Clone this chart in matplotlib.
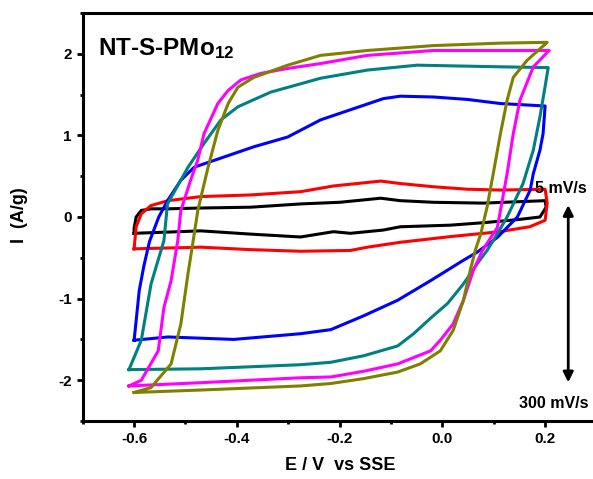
import matplotlib
matplotlib.use("Agg")
import matplotlib.pyplot as plt
from matplotlib.ticker import MultipleLocator

plt.rcParams['font.family'] = ['Liberation Sans', 'DejaVu Sans']
plt.rcParams['font.weight'] = 'bold'
plt.rcParams['mathtext.fontset'] = 'custom'
plt.rcParams['mathtext.rm'] = 'Liberation Sans:bold'
plt.rcParams['mathtext.default'] = 'rm'

# CV loops: forward (anodic) sweep then reverse sweep, E in V vs SSE, I in A/g
black_E = [-0.6, -0.6, -0.596, -0.586, -0.567, -0.534, -0.47, -0.373, -0.276, -0.2, -0.12, -0.082, -0.017, 0.08, 0.2,
           0.2, 0.202, 0.19, 0.15, 0.08, 0.016, -0.082, -0.115, -0.179, -0.212, -0.276, -0.373, -0.47, -0.6]
black_I = [-0.2, -0.14, 0.0, 0.08, 0.1, 0.1, 0.11, 0.12, 0.16, 0.18, 0.23, 0.2, 0.18, 0.17, 0.2,
           0.2, 0.12, 0.0, -0.03, -0.07, -0.1, -0.12, -0.16, -0.2, -0.18, -0.245, -0.21, -0.17, -0.2]

red_E = [-0.6, -0.596, -0.586, -0.567, -0.534, -0.47, -0.373, -0.276, -0.212, -0.12, -0.082, -0.017, 0.049, 0.113, 0.2,
         0.204, 0.2, 0.17, 0.13, 0.113, 0.08, 0.016, -0.082, -0.146, -0.179, -0.276, -0.373, -0.47, -0.6]
red_I = [-0.39, -0.12, 0.04, 0.14, 0.2, 0.25, 0.27, 0.31, 0.38, 0.44, 0.41, 0.37, 0.34, 0.33, 0.34,
         0.17, -0.04, -0.12, -0.16, -0.18, -0.2, -0.24, -0.31, -0.37, -0.41, -0.42, -0.4, -0.37, -0.39]

blue_E = [-0.6, -0.596, -0.59, -0.581, -0.57, -0.552, -0.535, -0.509, -0.483, -0.367, -0.301, -0.237, -0.115, -0.082,
          -0.017, 0.049, 0.113, 0.2,
          0.196, 0.19, 0.177, 0.171, 0.146, 0.107, 0.068, 0.041, -0.023, -0.087, -0.153, -0.217, -0.276, -0.406,
          -0.534, -0.6]
blue_I = [-1.51, -1.27, -0.9, -0.6, -0.3, 0.0, 0.2, 0.45, 0.61, 0.86, 0.98, 1.19, 1.45, 1.48,
          1.47, 1.44, 1.39, 1.36,
          1.02, 0.82, 0.53, 0.33, 0.0, -0.25, -0.43, -0.53, -0.78, -1.02, -1.21, -1.38, -1.43, -1.5,
          -1.47, -1.51]

teal_E = [-0.61, -0.586, -0.567, -0.542, -0.535, -0.495, -0.464, -0.431, -0.398, -0.334, -0.237, -0.146, -0.049,
          0.113, 0.206,
          0.2, 0.19, 0.177, 0.157, 0.126, 0.099, 0.087, 0.068, 0.041, 0.01, -0.023, -0.056, -0.087, -0.153, -0.217,
          -0.276, -0.47, -0.61]
teal_I = [-1.87, -1.51, -0.82, -0.29, 0.16, 0.61, 0.9, 1.19, 1.35, 1.53, 1.7, 1.8, 1.86,
          1.84, 1.83,
          1.6, 1.23, 0.82, 0.41, 0.0, -0.29, -0.41, -0.57, -0.82, -1.06, -1.24, -1.43, -1.58, -1.7, -1.78,
          -1.81, -1.86, -1.87]

magenta_E = [-0.61, -0.586, -0.553, -0.542, -0.528, -0.515, -0.509, -0.49, -0.476, -0.464, -0.437, -0.417, -0.392,
             -0.353, -0.301, -0.237, -0.146, -0.017, 0.208,
             0.177, 0.151, 0.138, 0.126, 0.107, 0.078, 0.06, 0.041, 0.021, -0.004, -0.023, -0.087, -0.153, -0.217,
             -0.276, -0.47, -0.61]
magenta_I = [-2.07, -2.0, -1.64, -1.11, -0.78, -0.29, 0.08, 0.45, 0.7, 1.02, 1.39, 1.55, 1.68,
             1.76, 1.82, 1.88, 1.98, 2.04, 2.04,
             1.84, 1.43, 1.02, 0.53, -0.13, -0.41, -0.66, -1.02, -1.31, -1.51, -1.64, -1.8, -1.89, -1.96,
             -1.97, -2.03, -2.07]

olive_E = [-0.6, -0.567, -0.528, -0.509, -0.495, -0.485, -0.476, -0.456, -0.437, -0.417, -0.398, -0.367, -0.301,
           -0.237, -0.146, -0.017, 0.113, 0.204,
           0.165, 0.138, 0.126, 0.113, 0.099, 0.087, 0.075, 0.064, 0.054, 0.041, 0.021, -0.004, -0.043, -0.087,
           -0.153, -0.217, -0.276, -0.47, -0.6]
olive_I = [-2.15, -2.09, -1.8, -1.31, -0.69, -0.29, 0.08, 0.61, 1.06, 1.39, 1.59, 1.71, 1.86,
           1.98, 2.04, 2.1, 2.13, 2.14,
           1.92, 1.71, 1.43, 1.02, 0.53, 0.12, -0.2, -0.41, -0.66, -1.02, -1.39, -1.64, -1.8, -1.9,
           -1.98, -2.04, -2.07, -2.12, -2.15]

loops = [
    (black_E, black_I, 'black'),
    (red_E, red_I, '#ff0000'),
    (blue_E, blue_I, '#0000ff'),
    (teal_E, teal_I, '#008080'),
    (magenta_E, magenta_I, '#ff00ff'),
    (olive_E, olive_I, '#808000'),
]

fig = plt.figure(figsize=(5.93, 4.79), dpi=100)
ax = fig.add_axes([0.1395, 0.121, 0.8664, 0.852])

for E, I, c in loops:
    ax.plot(E, I, color=c, lw=2.2, solid_joinstyle='round')

ax.set_xlim(-0.7, 0.3)
ax.set_ylim(-2.5, 2.5)
ax.xaxis.set_minor_locator(MultipleLocator(0.1))
ax.yaxis.set_minor_locator(MultipleLocator(0.5))
ax.set_xticks([-0.6, -0.4, -0.2, 0.0, 0.2])
ax.set_xticklabels(['-0.6', '-0.4', '-0.2', '0.0', '0.2'])
ax.set_yticks([-2, -1, 0, 1, 2])
ax.set_yticklabels(['-2', '-1', '0', '1', '2'])
ax.tick_params(which='major', direction='out', length=4.5, width=2, labelsize=11)
ax.tick_params(which='minor', direction='out', length=2.5, width=2)
for s in ax.spines.values():
    s.set_linewidth(2.2)
ax.spines['right'].set_visible(False)

ax.text(-0.67, 1.98, r'NT-S-PMo$_{12}$', fontsize=17.5, fontweight='bold', va='baseline')
ax.text(0.18, 0.35, '5 mV/s', fontsize=11.5, fontweight='bold', va='center')
ax.text(0.15, -2.29, '300 mV/s', fontsize=11.5, fontweight='bold', va='center')
ax.annotate('', xy=(0.245, -2.06), xytext=(0.245, 0.18),
            arrowprops=dict(arrowstyle='<|-|>,head_length=0.6,head_width=0.3', color='black', lw=2))

fig.text(20 / 593, 1 - 215 / 479, 'I  (A/g)', rotation=90, ha='center', va='center', fontsize=13, fontweight='bold')
fig.text(340 / 593, 1 - 466 / 479, 'E / V  vs SSE', ha='center', va='center', fontsize=13, fontweight='bold')

fig.savefig('out.png', dpi=100)
